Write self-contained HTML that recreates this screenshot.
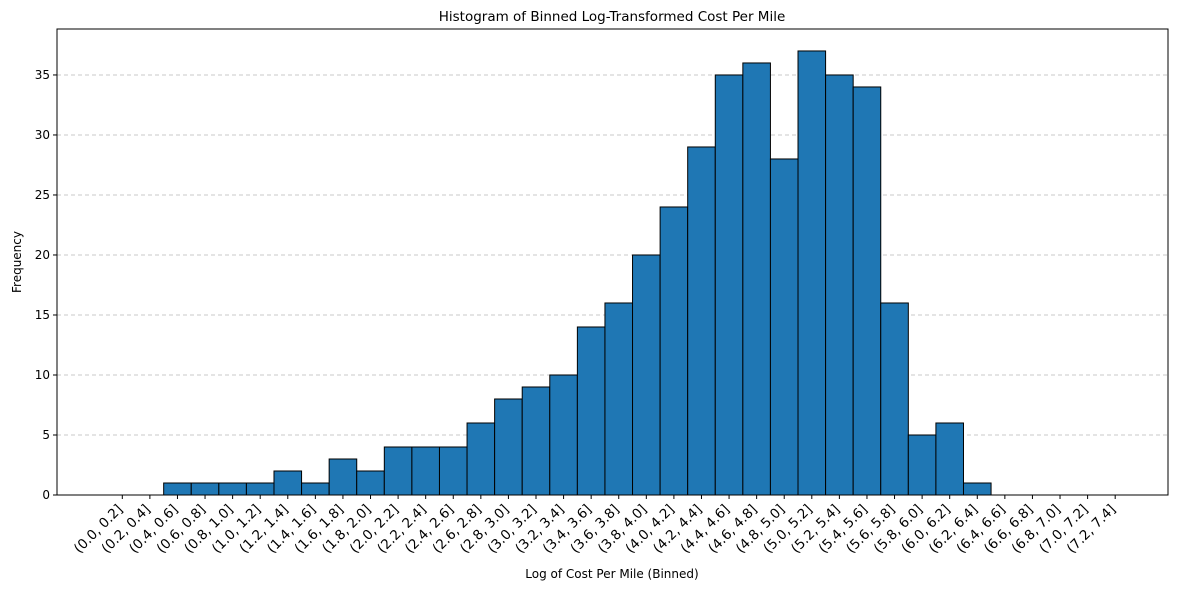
<!DOCTYPE html>
<html><head><meta charset="utf-8"><style>
body{margin:0;background:#fff}
svg{display:block;font-family:"DejaVu Sans","Liberation Sans",sans-serif}
</style></head><body>
<svg id="chart" width="1189" height="589" xmlns="http://www.w3.org/2000/svg">
<text x="612" y="21" text-anchor="middle" font-size="13.5">Histogram of Binned Log-Transformed Cost Per Mile</text>
<text x="612" y="578" text-anchor="middle" font-size="12">Log of Cost Per Mile (Binned)</text>
<text transform="translate(21,262) rotate(-90)" text-anchor="middle" font-size="12">Frequency</text>
<g id="grid"></g><g id="bars"></g><g id="axes"></g>
</svg>
<script>
const categories = ["(0.0, 0.2]","(0.2, 0.4]","(0.4, 0.6]","(0.6, 0.8]","(0.8, 1.0]","(1.0, 1.2]","(1.2, 1.4]","(1.4, 1.6]","(1.6, 1.8]","(1.8, 2.0]","(2.0, 2.2]","(2.2, 2.4]","(2.4, 2.6]","(2.6, 2.8]","(2.8, 3.0]","(3.0, 3.2]","(3.2, 3.4]","(3.4, 3.6]","(3.6, 3.8]","(3.8, 4.0]","(4.0, 4.2]","(4.2, 4.4]","(4.4, 4.6]","(4.6, 4.8]","(4.8, 5.0]","(5.0, 5.2]","(5.2, 5.4]","(5.4, 5.6]","(5.6, 5.8]","(5.8, 6.0]","(6.0, 6.2]","(6.2, 6.4]","(6.4, 6.6]","(6.6, 6.8]","(6.8, 7.0]","(7.0, 7.2]","(7.2, 7.4]"];
const counts = [0,0,1,1,1,1,2,1,3,2,4,4,4,6,8,9,10,14,16,20,24,29,35,36,28,37,35,34,16,5,6,1,0,0,0,0,0];
const yTicks = [0,5,10,15,20,25,30,35];
const NS="http://www.w3.org/2000/svg";
const L=57,R=1168,T=29,B=495;
const step=27.58, x0=122.3;
const xPos=i=>x0+i*step;
const yMax=38.83;
const yPos=v=>B-(v/yMax)*(B-T);
function mk(tag,attrs,parent){const e=document.createElementNS(NS,tag);for(const k in attrs)e.setAttribute(k,attrs[k]);parent.appendChild(e);return e;}
const grid=document.getElementById('grid'),bars=document.getElementById('bars'),axes=document.getElementById('axes');
yTicks.forEach(v=>{
  if(v>0){const g=mk('line',{x1:L,x2:R,y1:yPos(v),y2:yPos(v),stroke:'#c8c8c8','stroke-dasharray':'4,3','stroke-width':1},grid);
  
  }
  const t=mk('line',{x1:L-4,x2:L,y1:yPos(v),y2:yPos(v),stroke:'#000'},axes);
  
  
  const tx=mk('text',{x:L-7,y:yPos(v)+4,'text-anchor':'end','font-size':12},axes);tx.textContent=v;
  
  
});
categories.forEach((c,i)=>{
  const h=counts[i];const y=yPos(h);
  const r=mk('rect',{x:xPos(i)-step/2,y:y,width:step,height:B-y,fill:'#1f77b4',stroke:h>0?'#000':'#999','stroke-width':1},bars);
  
  
  const t=mk('line',{x1:xPos(i),x2:xPos(i),y1:B,y2:B+4,stroke:'#000'},axes);
  
  
  const tx=mk('text',{transform:`translate(${xPos(i)+1},${B+15}) rotate(-45)`,'text-anchor':'end','font-size':13.5},axes);tx.textContent=c;
  
  
});
const fr=mk('rect',{x:L,y:T,width:R-L,height:B-T,fill:'none',stroke:'#000','stroke-width':1},axes);


</script>
</body></html>
